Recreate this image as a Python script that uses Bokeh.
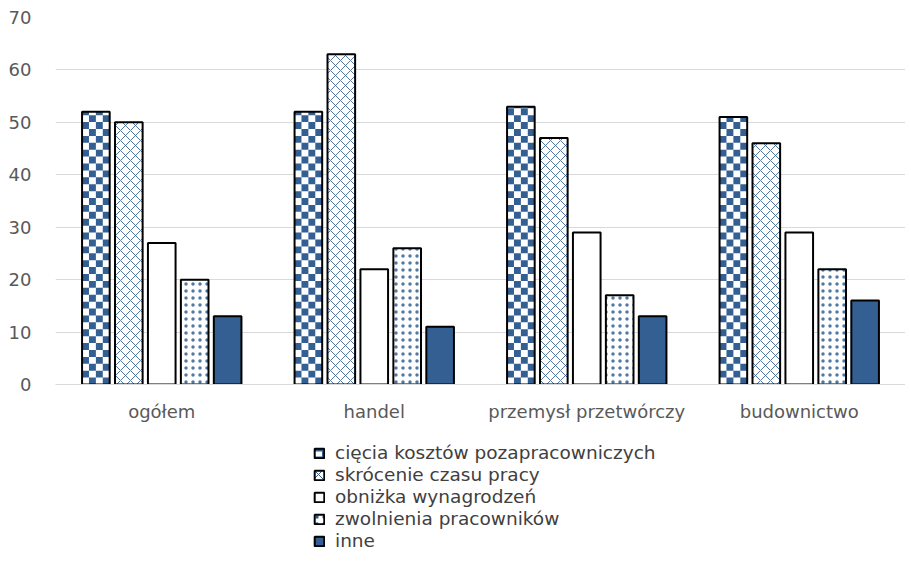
import math
from bokeh.plotting import figure
from bokeh.layouts import column
from bokeh.models import ColumnDataSource, FactorRange, Legend, LegendItem
from bokeh.transform import dodge
from bokeh.embed import file_html
from bokeh.resources import INLINE

categories = ["ogółem", "handel", "przemysł przetwórczy", "budownictwo"]
series_names = ["cięcia kosztów pozapracowniczych", "skrócenie czasu pracy",
                "obniżka wynagrodzeń", "zwolnienia pracowników", "inne"]
ciecia = [52, 52, 53, 51]
skrocenie = [50, 63, 47, 46]
obnizka = [27, 22, 29, 29]
zwolnienia = [20, 26, 17, 22]
inne = [13, 11, 13, 16]
y_ticks = [0, 10, 20, 30, 40, 50, 60, 70]

BLUE = "#335F93"
Y_MAX = 70
FRAME_W, FRAME_H = 850, 367
src = ColumnDataSource(dict(cat=categories, s0=ciecia, s1=skrocenie, s2=obnizka, s3=zwolnienia, s4=inne))

p = figure(x_range=FactorRange(*categories, range_padding=0), y_range=(0, Y_MAX),
           width=905, height=430, output_backend="svg", toolbar_location=None,
           min_border_left=55, min_border_top=17, min_border_right=0, min_border_bottom=46)
p.outline_line_color = None

offsets = [-0.31, -0.155, 0, 0.155, 0.31]
BW = 0.13

# checkerboard fill for the first series: white base, blue squares, black outline
p.vbar(x=dodge("cat", offsets[0], range=p.x_range), top="s0", width=BW, source=src,
       fill_color="white", line_color=None)
ncols = 4
cell_w = BW / ncols
cell_h = Y_MAX * (FRAME_W / len(categories) * cell_w) / FRAME_H
for k in range(ncols):
    cats, bots, tops = [], [], []
    for c, v in zip(categories, ciecia):
        for r in range(math.ceil(v / cell_h)):
            if (r + k) % 2 == 1:
                cats.append(c)
                bots.append(r * cell_h)
                tops.append(min((r + 1) * cell_h, v))
    s = ColumnDataSource(dict(cat=cats, b=bots, t=tops))
    p.vbar(x=dodge("cat", offsets[0] - BW / 2 + cell_w * (k + 0.5), range=p.x_range),
           bottom="b", top="t", width=cell_w, source=s, fill_color=BLUE, line_color=None)
p.vbar(x=dodge("cat", offsets[0], range=p.x_range), top="s0", width=BW, source=src,
       fill_color=None, line_color="black", line_width=2)

styles = [
    None,
    dict(fill_color="white", hatch_pattern="x", hatch_color=BLUE, hatch_scale=10, hatch_weight=1, hatch_alpha=0.85),
    dict(fill_color="white"),
    dict(fill_color="white", hatch_pattern=".", hatch_color=BLUE, hatch_scale=7, hatch_weight=1, hatch_alpha=0.85),
    dict(fill_color=BLUE),
]
for i in range(1, 5):
    p.vbar(x=dodge("cat", offsets[i], range=p.x_range), top="s%d" % i, width=BW, source=src,
           line_color="black", line_width=2, **styles[i])

FONT = "DejaVu Sans"
p.xgrid.grid_line_color = None
p.ygrid.grid_line_color = "#D9D9D9"
p.ygrid.grid_line_width = 1
p.yaxis.ticker = y_ticks
p.yaxis.axis_line_color = None
p.yaxis.major_tick_line_color = None
p.yaxis.minor_tick_line_color = None
p.yaxis.major_label_text_font = FONT
p.yaxis.major_label_text_font_size = "18px"
p.yaxis.major_label_text_color = "#595959"
p.yaxis.major_label_standoff = 18
p.xaxis.axis_line_color = "#D9D9D9"
p.xaxis.major_tick_line_color = None
p.xaxis.minor_tick_line_color = None
p.xaxis.major_label_text_font = FONT
p.xaxis.major_label_text_font_size = "18px"
p.xaxis.major_label_text_color = "#595959"
p.xaxis.major_label_standoff = 10

# legend figure (swatch renderers hold no drawable data; used only for legend swatches)
pl = figure(width=905, height=124, output_backend="svg", toolbar_location=None,
            x_range=(0, 1), y_range=(0, 1), min_border=0)
pl.axis.visible = False
pl.grid.visible = False
pl.outline_line_color = None
dummy = ColumnDataSource(dict(x=[float("nan")], t=[float("nan")]))
leg_styles = [
    dict(fill_color=BLUE, hatch_pattern='"', hatch_color="white", hatch_scale=12, hatch_weight=5),
    dict(fill_color="white", hatch_pattern="x", hatch_color=BLUE, hatch_scale=10, hatch_weight=1),
    dict(fill_color="white"),
    dict(fill_color="white", hatch_pattern=".", hatch_color=BLUE, hatch_scale=7, hatch_weight=1),
    dict(fill_color=BLUE),
]
leg_items = []
for name, st in zip(series_names, leg_styles):
    r = pl.vbar(x="x", top="t", width=0.1, source=dummy, line_color="black", line_width=2, **st)
    leg_items.append(LegendItem(label=name, renderers=[r]))
legend = Legend(items=leg_items, location=(258, 3), orientation="vertical",
                label_text_font=FONT, label_text_font_size="18.5px", label_text_color="#404040",
                glyph_width=12, glyph_height=12, label_height=18, spacing=1, label_standoff=10,
                padding=0, margin=0, border_line_color=None, background_fill_alpha=0)
pl.add_layout(legend)

layout = column(p, pl, spacing=0)
open("out.html", "w").write(file_html(layout, INLINE))
